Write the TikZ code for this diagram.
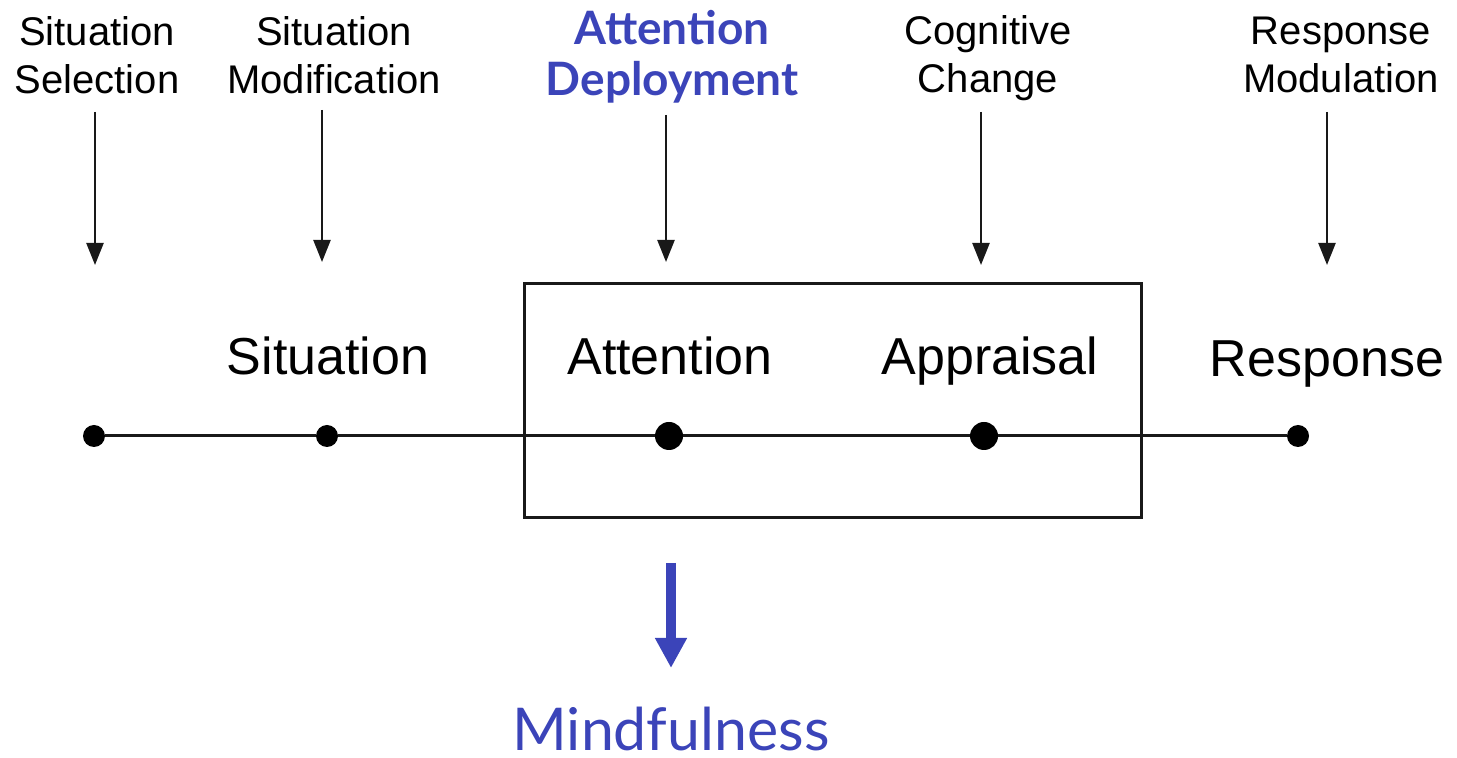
\documentclass[tikz,border=0pt]{standalone}
\usepackage{fontspec}
\setmainfont{Liberation Sans}
\newfontfamily\gillfont{Lato}
\usetikzlibrary{arrows.meta,fit}
\definecolor{mblue}{RGB}{59,68,185}
\definecolor{lineink}{RGB}{25,25,25}
\begin{document}
\begin{tikzpicture}[x=0.5pt,y=-0.5pt,
  toplabel/.style={align=center,font=\fontsize{20}{24}\selectfont,inner sep=0pt},
  stagelabel/.style={anchor=base,font=\fontsize{26}{30}\selectfont,inner sep=0pt},
  smalldot/.style={circle,fill=black,inner sep=0pt,minimum size=11pt},
  bigdot/.style={circle,fill=black,inner sep=0pt,minimum size=14pt},
  arr/.style={draw=lineink,line width=1.2pt,-{Triangle[length=11pt,width=8.5pt]}},
  bluearr/.style={draw=mblue,line width=5pt,-{Triangle[length=15pt,width=15pt]}}]
\useasboundingbox (0,0) rectangle (1457,758);
% top labels
\node[toplabel] (lss) at (97,55) {Situation\\Selection};
\node[toplabel] (lsm) at (334,55) {Situation\\Modification};
\node[toplabel,font=\gillfont\bfseries\fontsize{23}{25.5}\selectfont,text=mblue] (lad) at (672,57) {Attention\\Deployment};
\node[toplabel] (lcc) at (988,58) {Cognitive\\Change};
\node[toplabel] (lrm) at (1341,55) {Response\\Modulation};
% arrow ends
\coordinate (t1) at (95,112);  \coordinate (b1) at (95,265);
\coordinate (t2) at (322,110); \coordinate (b2) at (322,262);
\coordinate (t3) at (666,115); \coordinate (b3) at (666,262);
\coordinate (t4) at (981,112); \coordinate (b4) at (981,265);
\coordinate (t5) at (1327,112);\coordinate (b5) at (1327,265);
\foreach \i in {1,...,5} {\draw[arr] (t\i) -- (b\i);}
% box
\node[draw=lineink,line width=1.5pt,inner sep=0pt,fit={(524,284)(1141,518)}] (box) {};
% stage labels
\node[stagelabel] (sit) at (328,375) {Situation};
\node[stagelabel] (att) at (670,375) {Attention};
\node[stagelabel] (app) at (990,375) {Appraisal};
\node[stagelabel] (res) at (1327,377) {Response};
% timeline
\node[smalldot] (d1) at (94,436) {};
\node[smalldot] (d2) at (327,436) {};
\node[bigdot] (d3) at (669,436) {};
\node[bigdot] (d4) at (984,436) {};
\node[smalldot] (d5) at (1298,436) {};
\draw[lineink,line width=1.5pt] (d1) -- (d2) -- (d3) -- (d4) -- (d5);
% mindfulness
\coordinate (mt) at (671,563);
\node[anchor=base,inner sep=0pt,text depth=0pt,text=mblue,font=\gillfont\fontsize{29.5}{34}\selectfont] (mind) at (671,750) {Mindfulness};
\draw[bluearr] (mt) -- (mind.north |- 0,668);
\end{tikzpicture}
\end{document}
